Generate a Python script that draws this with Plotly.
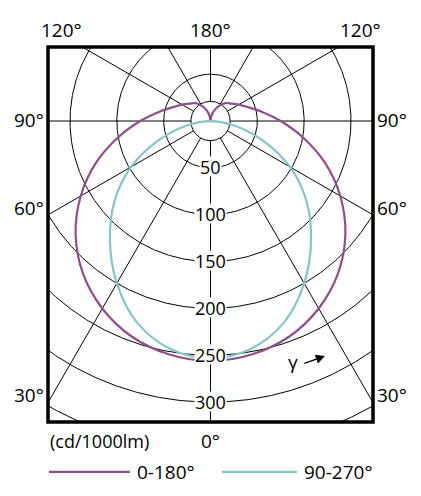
import numpy as np
import plotly.graph_objects as go

# ---- data (cd/1000lm) ----
gamma_c0 = [0, 10, 20, 30, 40, 50, 60, 70, 80, 90, 100, 110, 120, 130, 140, 150, 160, 170, 180]
cd_c0_180 = [256, 253, 245, 231, 212, 188, 160, 130, 100, 75, 56, 43, 35, 29, 25, 19, 12, 5, 0]

gamma_c90 = [0, 10, 20, 30, 40, 50, 60, 70, 80, 90]
cd_c90_270 = [253, 247, 229, 200, 167, 134, 98, 58, 24, 0]

grid_radii = [21, 50, 100, 150, 200, 250, 300, 350]
radial_angles = [0, 30, 60, 90, 120, 150, 180]
radial_ticks = [50, 100, 150, 200, 250, 300]

series_names = ["0-180°", "90-270°"]
series_colors = ["#8E4E8A", "#86C4C7"]

FONT = "Open Sans"


def half_to_xy(gammas, values):
    g = np.radians(np.asarray(gammas, dtype=float))
    r = np.asarray(values, dtype=float)
    xl = -(r * np.sin(g))[::-1]
    yl = -(r * np.cos(g))[::-1]
    xr = (r * np.sin(g))[1:]
    yr = -(r * np.cos(g))[1:]
    return np.concatenate([xl, xr]), np.concatenate([yl, yr])


fig = go.Figure()

# grid circles
gx, gy = [], []
t = np.linspace(0, 2 * np.pi, 721)
for rad in grid_radii:
    gx += list(rad * np.sin(t)) + [None]
    gy += list(rad * np.cos(t)) + [None]
# radial lines
r0, r1 = grid_radii[0], 600
for a in radial_angles:
    ar = np.radians(a)
    for side in ([1] if a in (0, 180) else [-1, 1]):
        gx += [side * r0 * np.sin(ar), side * r1 * np.sin(ar), None]
        gy += [-r0 * np.cos(ar), -r1 * np.cos(ar), None]
fig.add_trace(go.Scatter(x=gx, y=gy, mode="lines", line=dict(color="black", width=1),
                         hoverinfo="skip", showlegend=False))

# intensity curves
for (gam, vals), name, col in zip([(gamma_c0, cd_c0_180), (gamma_c90, cd_c90_270)],
                                  series_names, series_colors):
    x, y = half_to_xy(gam, vals)
    fig.add_trace(go.Scatter(x=x, y=y, mode="lines", name=name,
                             line=dict(color=col, width=2.2, shape="spline", smoothing=1.0),
                             showlegend=False))

annotations = []
# radial value labels
for v in radial_ticks:
    annotations.append(dict(x=0, y=-v, xref="x", yref="y", text=str(v), showarrow=False,
                            font=dict(family=FONT, size=18, color="black"),
                            bgcolor="white", borderpad=0, height=19, yshift=1))

# angle labels (paper coords)
angle_labels = [
    ("120°", 0.043, 1.045), ("180°", 0.5, 1.045), ("120°", 0.963, 1.045),
    ("90°", -0.058, 0.806), ("90°", 1.058, 0.806),
    ("60°", -0.058, 0.572), ("60°", 1.058, 0.572),
    ("30°", -0.058, 0.073), ("30°", 1.058, 0.073),
    ("0°", 0.5, -0.05),
]
for txt, px, py in angle_labels:
    annotations.append(dict(x=px, y=py, xref="paper", yref="paper", text=txt, showarrow=False,
                            xanchor="center", yanchor="middle",
                            font=dict(family=FONT, size=19, color="black")))

annotations.append(dict(x=0, y=-0.05, xref="paper", yref="paper", text="(cd/1000lm)",
                        showarrow=False, xanchor="left", yanchor="middle",
                        font=dict(family=FONT, size=18, color="black")))

# gamma arrow
annotations.append(dict(x=0.754, y=0.16, xref="paper", yref="paper", text="γ", showarrow=False,
                        xanchor="center", yanchor="middle",
                        font=dict(family=FONT, size=19, color="black")))
annotations.append(dict(x=0.852, y=0.176, xref="paper", yref="paper", text="", showarrow=True,
                        ax=-22, ay=8, arrowhead=2, arrowsize=1.3, arrowwidth=1.4,
                        arrowcolor="black"))

# manual legend
legend_items = [(0.003, 0.252, 0.268), (0.535, 0.766, 0.782)]
shapes = [dict(type="rect", xref="paper", yref="paper", x0=0, x1=1, y0=0, y1=1,
               line=dict(color="black", width=3.5))]
for (x0, x1, xt), name, col in zip(legend_items, series_names, series_colors):
    shapes.append(dict(type="line", xref="paper", yref="paper", x0=x0, x1=x1,
                       y0=-0.133, y1=-0.133, line=dict(color=col, width=2.2)))
    annotations.append(dict(x=xt, y=-0.133, xref="paper", yref="paper", text=name,
                            showarrow=False, xanchor="left", yanchor="middle",
                            font=dict(family=FONT, size=19, color="black")))

# page body has an 8px margin -> figure is 413x488 placed at (8, 8)
fig.update_layout(
    width=413, height=488, autosize=False,
    margin=dict(l=40, r=48, t=39, b=74),
    paper_bgcolor="white", plot_bgcolor="white",
    xaxis=dict(range=[-173.5, 173.5], visible=False, fixedrange=True),
    yaxis=dict(range=[-321.2, 79.0], visible=False, fixedrange=True),
    annotations=annotations, shapes=shapes, showlegend=False,
)

fig.write_html("out.html", config={"displayModeBar": False})
